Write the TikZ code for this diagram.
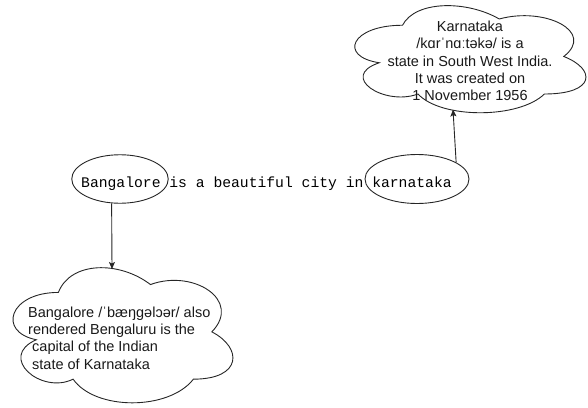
\documentclass[tikz,border=0pt]{standalone}
\usepackage{fontspec}
\setmainfont{Liberation Sans}
\newfontfamily\monofam{Liberation Mono}
\usetikzlibrary{arrows.meta,shapes.geometric}
\tikzset{
  lineink/.style={draw=black!85, line width=0.9pt},
  mxcloud/.pic={\draw[lineink] (0.25,0.25) .. controls (0.05,0.25) and (0,0.5) .. (0.16,0.55)
     .. controls (0,0.66) and (0.18,0.9) .. (0.31,0.8)
     .. controls (0.4,1) and (0.7,1) .. (0.8,0.8)
     .. controls (1,0.8) and (1,0.6) .. (0.875,0.5)
     .. controls (1,0.3) and (0.8,0.1) .. (0.625,0.2)
     .. controls (0.5,0.05) and (0.3,0.05) .. (0.25,0.25) -- cycle;},
  oval/.style={lineink, ellipse, inner sep=0pt},
  cloudtext/.style={inner sep=0pt, font=\fontsize{14.5}{17.3}\selectfont, text=black!90},
  arr/.style={lineink, -{Stealth[length=7pt,width=6pt,inset=1.5pt]}},
}
\begin{document}
\begin{tikzpicture}[x=1pt,y=-1pt]
\useasboundingbox (0,0) rectangle (588,407);
% clouds
\pic at (338,-6) [xscale=258, yscale=125] {mxcloud};
\pic at (-3,253) [xscale=245.5, yscale=157.7] {mxcloud};
% cloud texts
\node[cloudtext, align=center] (ktext) at (470,61)
  {Karnataka\\/kɑrˈnɑːtəkə/ is a\\state in South West India.\\It was created on\\1 November 1956};
\node[cloudtext, align=left, anchor=west] (btext) at (28,338)
  {Bangalore /ˈbæŋɡəlɔər/ also\\rendered Bengaluru is the\\\hspace*{4pt}capital of the Indian\\\hspace*{4pt}state of Karnataka};
% sentence
\node[inner sep=0pt, anchor=base west, font=\monofam\fontsize{14.7}{17}\selectfont] (sent) at (81,187.5)
  {Bangalore is a beautiful city in karnataka};
% ellipses
\node[oval, minimum width=96.5pt, minimum height=48.5pt] (bang) at (120,179) {};
\node[oval, minimum width=104pt, minimum height=49pt] (karn) at (417,179) {};
% arrow end points
\coordinate (c1top) at (112,269);
\coordinate (c2bot) at (453,109.5);
\draw[arr] (bang.251.3) -- (c1top);
\draw[arr] (karn.23.3) -- (c2bot);
\end{tikzpicture}
\end{document}
